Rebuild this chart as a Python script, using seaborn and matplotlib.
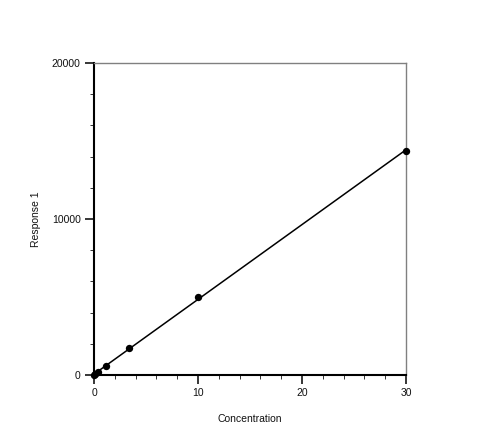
import numpy as np
import matplotlib
matplotlib.use("Agg")
import matplotlib.pyplot as plt
from matplotlib.ticker import MultipleLocator
import seaborn as sns
import pandas as pd

concentration = [0.0412, 0.123, 0.370, 1.11, 3.33, 10.0, 30.0]
response = [20, 60, 190, 560, 1720, 5000, 14380]
x_ticks = [0, 10, 20, 30]
y_ticks = [0, 10000, 20000]

sns.set_theme(style="white")
plt.rcParams['font.family'] = ['Liberation Sans', 'DejaVu Sans']

df = pd.DataFrame({"Concentration": concentration, "Response 1": response})

fig = plt.figure(figsize=(5, 4.37), dpi=100)
ax = fig.add_axes([0.188, 0.1419, 0.624, 0.7139])

slope, intercept = np.polyfit(concentration, response, 1)
xl = np.array([0.0, max(concentration)])
ax.plot(xl, slope * xl + intercept, color="black", lw=1.1, zorder=2)
sns.scatterplot(data=df, x="Concentration", y="Response 1", ax=ax, color="black",
                s=28, edgecolor="black", linewidth=0, zorder=3, clip_on=False)

ax.set_xlim(0, 30)
ax.set_ylim(0, 20000)
ax.set_xticks(x_ticks)
ax.set_yticks(y_ticks)
ax.xaxis.set_minor_locator(MultipleLocator(2))
ax.yaxis.set_minor_locator(MultipleLocator(2000))
ax.tick_params(which="major", direction="out", length=6.5, width=1.1, color="black",
               labelsize=7.5, pad=3, bottom=True, left=True, labelcolor="#111111")
ax.tick_params(which="minor", direction="out", length=3, width=0.7, color="#333333",
               bottom=True, left=True)
for s in ["left", "bottom"]:
    ax.spines[s].set_color("black")
    ax.spines[s].set_linewidth(1.5)
for s in ["top", "right"]:
    ax.spines[s].set_color("#808080")
    ax.spines[s].set_linewidth(1.0)
ax.set_xlabel("Concentration", fontsize=7.5, color="#111111")
ax.set_ylabel("Response 1", fontsize=7.5, color="#111111")
ax.xaxis.set_label_coords(0.5, -0.125)
ax.yaxis.set_label_coords(-0.170, 0.5)
ax.grid(False)

fig.savefig("out.png", dpi=100, facecolor="white")
